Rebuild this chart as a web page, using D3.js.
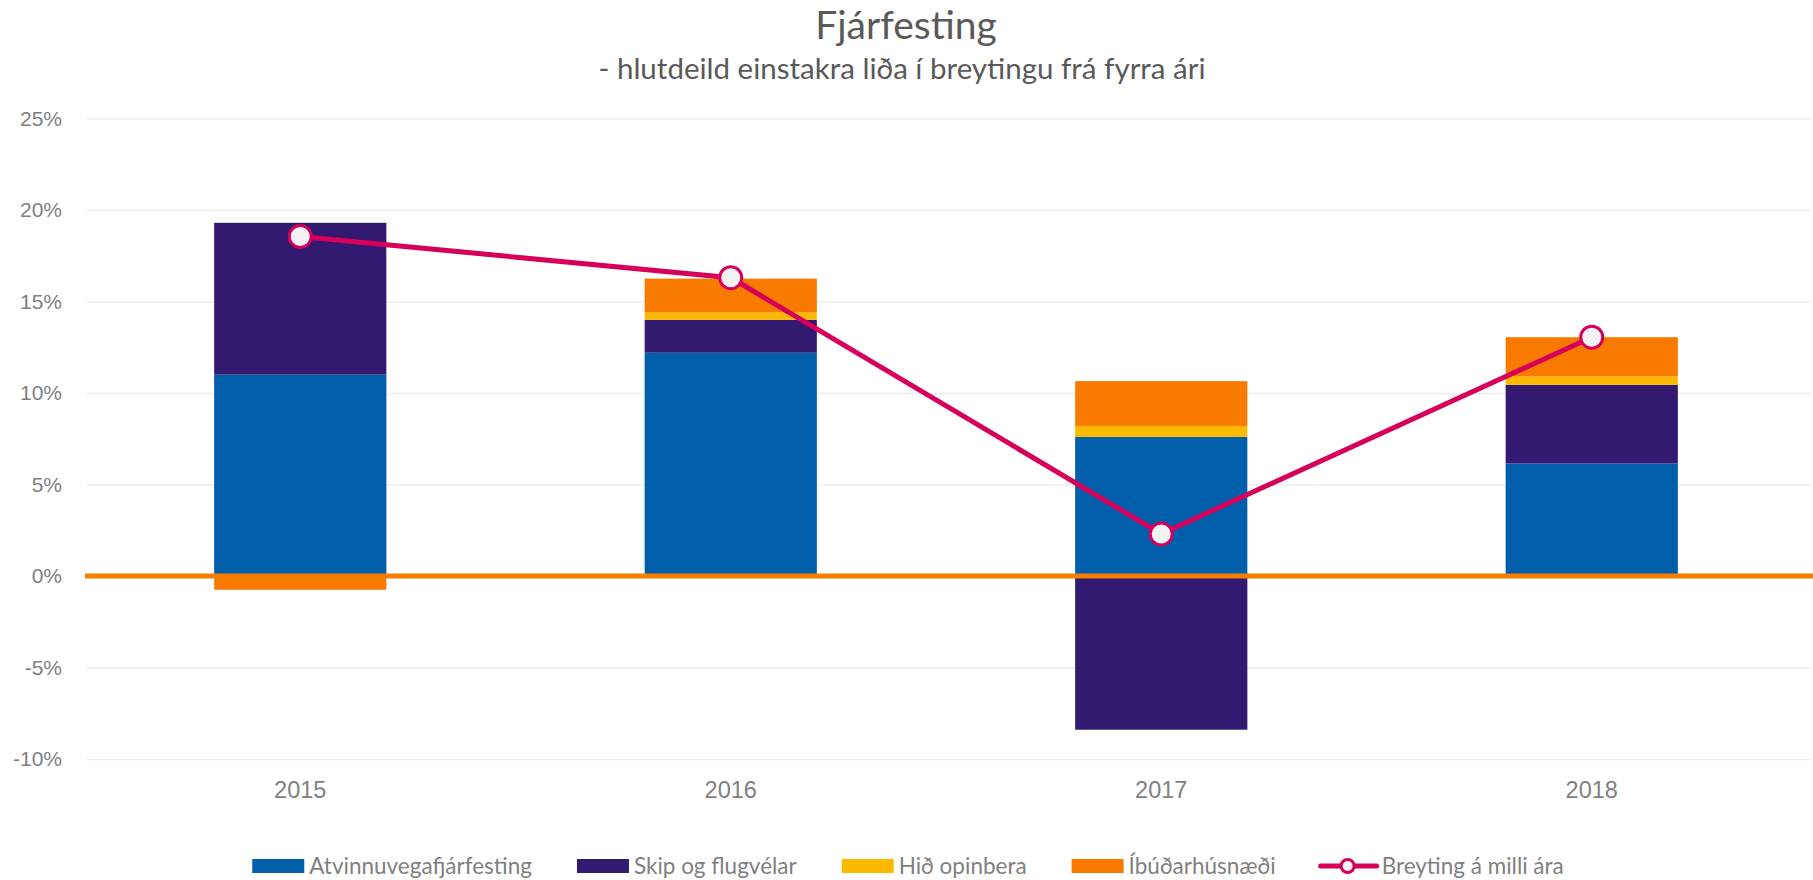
<!DOCTYPE html>
<html>
<head>
<meta charset="utf-8">
<script src="https://cdn.jsdelivr.net/npm/d3@7"></script>
<style>
  body { margin: 0; background: #fff; }
  svg { display: block; }
</style>
</head>
<body>
<svg id="chart" width="1813" height="880"></svg>
<script>
// data (percent)
var years = ["2015", "2016", "2017", "2018"];
var atvinnuvegir = [11.0, 12.2, 7.6, 6.15];
var skipFlug = [8.3, 1.8, -8.4, 4.3];
var opinbera = [0.0, 0.4, 0.6, 0.45];
var ibudir = [-0.75, 1.85, 2.45, 2.15];
var breyting = [18.55, 16.3, 2.3, 13.05];
var yTicks = [-10, -5, 0, 5, 10, 15, 20, 25];

var seriesNames = ["Atvinnuvegafjárfesting", "Skip og flugvélar", "Hið opinbera", "Íbúðarhúsnæði"];
var seriesColors = ["#005eab", "#321a70", "#fbb900", "#f97a00"];
var lineName = "Breyting á milli ára";
var lineColor = "#d6005b";

var svg = d3.select("#chart");

var x = d3.scaleBand()
    .domain(years)
    .range([85, 1807])
    .paddingInner(0.6)
    .paddingOuter(0.3);

var y = d3.scaleLinear()
    .domain([-10, 25])
    .range([759, 118.5]);

// table for stacking
var rows = years.map(function(yr, i){
    return {
        year: yr,
        s0: atvinnuvegir[i],
        s1: skipFlug[i],
        s2: opinbera[i],
        s3: ibudir[i]
    };
});
var stack = d3.stack()
    .keys(["s0", "s1", "s2", "s3"])
    .offset(d3.stackOffsetDiverging);
var stacked = stack(rows);

// title
svg.append("text")
    .attr("x", 906).attr("y", 39)
    .attr("text-anchor", "middle")
    .style("font-family", "Lato, 'Open Sans', sans-serif")
    .style("font-size", "39px")
    .attr("fill", "#595959")
    .text("Fjárfesting");
svg.append("text")
    .attr("x", 902).attr("y", 79)
    .attr("text-anchor", "middle")
    .style("font-family", "Lato, 'Open Sans', sans-serif")
    .style("font-size", "29.5px")
    .attr("fill", "#595959")
    .text("-  hlutdeild einstakra liða í breytingu frá fyrra ári");

// gridlines + y labels
var yAxis = d3.axisLeft(y)
    .tickValues(yTicks)
    .tickSize(-(1810 - 87))
    .tickPadding(25)
    .tickFormat(function(d){ return d + "%"; });
var gy = svg.append("g")
    .attr("transform", "translate(87,0)")
    .call(yAxis);
gy.select(".domain").remove();
gy.selectAll(".tick line")
    .attr("stroke", "#ececec")
    .attr("stroke-width", 1.5);
gy.selectAll(".tick text")
    .attr("fill", "#7f7f7f")
    .style("font-family", "'Liberation Sans', Arial, sans-serif")
    .style("font-size", "21px");

// x labels
var xAxis = d3.axisBottom(x).tickSize(0).tickPadding(0);
var gx = svg.append("g")
    .attr("transform", "translate(0,779)")
    .call(xAxis);
gx.select(".domain").remove();
gx.selectAll(".tick text")
    .attr("fill", "#7f7f7f")
    .attr("dy", "0.8em")
    .style("font-family", "'Liberation Sans', Arial, sans-serif")
    .style("font-size", "23.5px");

// stacked bars
svg.append("g").selectAll("g")
    .data(stacked)
    .enter().append("g")
    .attr("fill", function(d, i){ return seriesColors[i]; })
    .selectAll("rect")
    .data(function(d){ return d; })
    .enter().append("rect")
    .attr("x", function(d){ return x(d.data.year); })
    .attr("width", x.bandwidth())
    .attr("y", function(d){ return y(Math.max(d[0], d[1])); })
    .attr("height", function(d){ return Math.abs(y(d[0]) - y(d[1])); });

// zero line
svg.append("line")
    .attr("x1", 85).attr("x2", 1813)
    .attr("y1", y(0)).attr("y2", y(0))
    .attr("stroke", "#f77f00")
    .attr("stroke-width", 5);

// change line
var line = d3.line()
    .x(function(d, i){ return x(years[i]) + x.bandwidth() / 2; })
    .y(function(d){ return y(d); });
svg.append("path")
    .datum(breyting)
    .attr("d", line)
    .attr("fill", "none")
    .attr("stroke", lineColor)
    .attr("stroke-width", 5);
svg.selectAll("circle.pt")
    .data(breyting)
    .enter().append("circle")
    .attr("class", "pt")
    .attr("cx", function(d, i){ return x(years[i]) + x.bandwidth() / 2; })
    .attr("cy", function(d){ return y(d); })
    .attr("r", 11)
    .attr("fill", "#f2f2f2")
    .attr("stroke", lineColor)
    .attr("stroke-width", 3);

// legend
var legend = svg.append("g");
var lx = 0;
var ly = 866;
var items = seriesNames.concat([lineName]);
items.forEach(function(name, i){
    var g = legend.append("g").attr("transform", "translate(" + lx + ",0)");
    if (i < seriesNames.length) {
        g.append("rect")
            .attr("x", 0).attr("y", ly - 7)
            .attr("width", 52).attr("height", 14)
            .attr("fill", seriesColors[i]);
    } else {
        g.append("line")
            .attr("x1", 0).attr("x2", 56)
            .attr("y1", ly).attr("y2", ly)
            .attr("stroke", lineColor)
            .attr("stroke-width", 5)
            .attr("stroke-linecap", "round");
        g.append("circle")
            .attr("cx", 27).attr("cy", ly).attr("r", 6.5)
            .attr("fill", "#f2f2f2")
            .attr("stroke", lineColor)
            .attr("stroke-width", 3);
    }
    var tx = i < seriesNames.length ? 57 : 61;
    var t = g.append("text")
        .attr("x", tx).attr("y", ly)
        .attr("dy", "0.35em")
        .style("font-family", "Lato, 'Open Sans', sans-serif")
        .style("font-size", "22.5px")
        .attr("fill", "#7f7f7f")
        .text(name);
    lx += tx + t.node().getComputedTextLength() + 45;
});
var totalW = lx - 45;
legend.attr("transform", "translate(" + (908 - totalW / 2) + ",0)");
</script>
</body>
</html>
